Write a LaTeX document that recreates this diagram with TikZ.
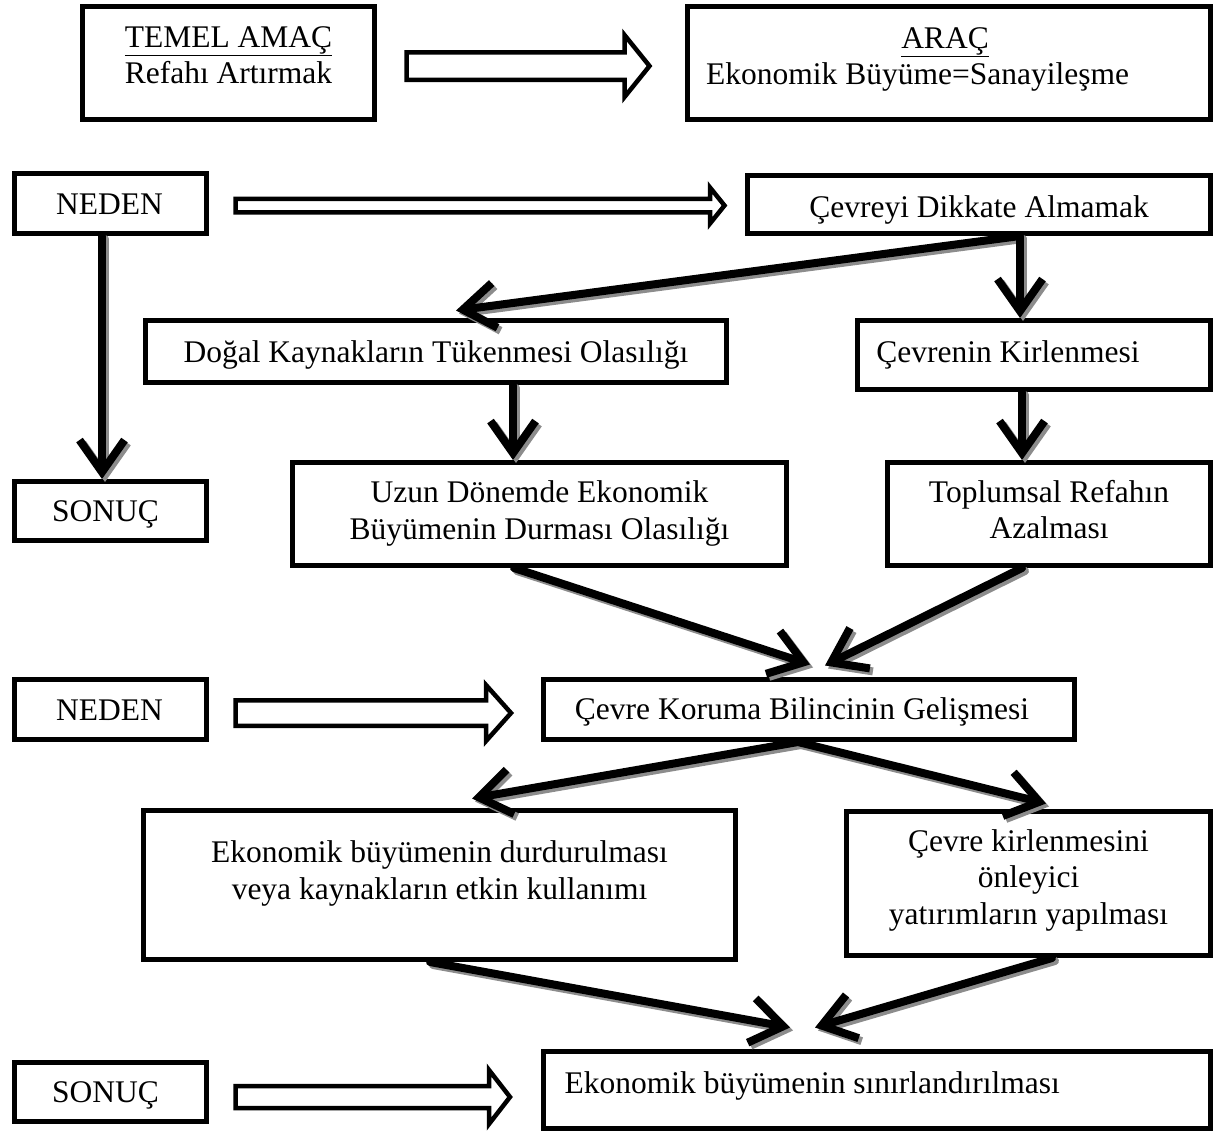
\documentclass[tikz,border=0pt]{standalone}
\usepackage{fontspec}
\setmainfont{Liberation Serif}
\usetikzlibrary{arrows.meta,calc}

\tikzset{
  box/.style={draw, fill=white, line width=5pt, inner sep=0pt},
  txt/.style={font=\fontsize{31.5}{36.5}\selectfont, align=center, inner sep=0pt},
  flowline/.style={line width=8pt, line cap=round, line join=round,
    -{Straight Barb[length=32pt,width=45pt]}},
  hollow/.style={draw, fill=white, line width=4.5pt, line join=miter},
}

% thick connector with a grey drop shadow
\newcommand\flow[2]{%
  \draw[flowline, black!45, transform canvas={shift={(3pt,-3pt)}}] #1 -- #2;
  \draw[flowline] #1 -- #2;}

% block arrow from #1 to #2 (same height): shaft half-width #3, head half-width #4, head length #5
\newcommand\blockarrow[5]{%
  \path[hollow] let \p1=(#1), \p2=(#2) in
    (\x1,\y1+#3) -- (\x2-#5,\y1+#3) -- (\x2-#5,\y1+#4) -- (\x2,\y1)
    -- (\x2-#5,\y1-#4) -- (\x2-#5,\y1-#3) -- (\x1,\y1-#3) -- cycle;}

\begin{document}
\begin{tikzpicture}[x=1pt, y=-1pt]
  \useasboundingbox (0,0) rectangle (1222,1133);

  % ---- boxes ----
  \node[box, minimum width=292pt, minimum height=113pt] (b1) at (228.5,63) {};
  \node[box, minimum width=523pt, minimum height=113pt] (b2) at (949,63) {};
  \node[box, minimum width=192pt, minimum height=60pt] (neden1) at (110.5,203.5) {};
  \node[box, minimum width=463pt, minimum height=58pt] (cevreyi) at (979,204.5) {};
  \node[box, minimum width=581pt, minimum height=62pt] (dogal) at (436,351.5) {};
  \node[box, minimum width=353pt, minimum height=69pt] (kirlenme) at (1034,355) {};
  \node[box, minimum width=192pt, minimum height=59pt] (sonuc1) at (110.5,511) {};
  \node[box, minimum width=494pt, minimum height=103pt] (uzun) at (539.5,514) {};
  \node[box, minimum width=323pt, minimum height=103pt] (toplumsal) at (1049,514) {};
  \node[box, minimum width=192pt, minimum height=60pt] (neden2) at (110.5,709.5) {};
  \node[box, minimum width=531pt, minimum height=60pt] (koruma) at (809,709.5) {};
  \node[box, minimum width=592pt, minimum height=149pt] (durdur) at (439.5,885) {};
  \node[box, minimum width=364pt, minimum height=144pt] (onleyici) at (1028.5,883.5) {};
  \node[box, minimum width=192pt, minimum height=59pt] (sonuc2) at (110.5,1092) {};
  \node[box, minimum width=667pt, minimum height=77pt] (sinir) at (877,1090) {};

  % ---- box texts ----
  \node[txt] (b1t) at ($(b1)+(0,-8)$) {\underline{TEMEL AMAÇ}\\Refahı Artırmak};
  \node[txt, anchor=base] (b2a) at (945,48) {\underline{ARAÇ}};
  \node[txt, anchor=base west] (b2b) at (706,84) {Ekonomik Büyüme=Sanayileşme};
  \node[txt] (neden1t) at ($(neden1)+(-1,0.5)$) {NEDEN};
  \node[txt] (cevreyit) at ($(cevreyi)+(0,5)$) {Çevreyi Dikkate Almamak};
  \node[txt] (dogalt) at ($(dogal)+(0,3)$) {Doğal Kaynakların Tükenmesi Olasılığı};
  \node[txt] (kirlenmet) at ($(kirlenme)+(-26,0)$) {Çevrenin Kirlenmesi};
  \node[txt] (sonuc1t) at ($(sonuc1)+(-5,3.5)$) {SONUÇ};
  \node[txt] (uzunt) at ($(uzun)+(0,-0.5)$) {Uzun Dönemde Ekonomik\\Büyümenin Durması Olasılığı};
  \node[txt] (toplumsalt) at ($(toplumsal)+(0,-4.5)$) {Toplumsal Refahın\\Azalması};
  \node[txt] (neden2t) at ($(neden2)+(-1,0.5)$) {NEDEN};
  \node[txt] (korumat) at ($(koruma)+(-7,2.5)$) {Çevre Koruma Bilincinin Gelişmesi};
  \node[txt] (durdurt) at ($(durdur)+(0,-11.5)$) {Ekonomik büyümenin durdurulması\\veya kaynakların etkin kullanımı};
  \node[txt] (onleyicit) at ($(onleyici)+(0,-3.5)$) {Çevre kirlenmesini\\önleyici\\yatırımların yapılması};
  \node[txt] (sonuc2t) at ($(sonuc2)+(-5,3)$) {SONUÇ};
  \node[txt, anchor=west] (sinirt) at ($(sinir.west)+(23.5,-4)$) {Ekonomik büyümenin sınırlandırılması};

  % ---- hollow block arrows ----
  \coordinate (h1a) at ($(b1.east)+(29.5,3)$);
  \coordinate (h1b) at ($(b2.west)+(-35.5,3)$);
  \blockarrow{h1a}{h1b}{13.75pt}{31pt}{25pt}
  \coordinate (h2a) at ($(neden1.east)+(26.5,2)$);
  \coordinate (h2b) at ($(cevreyi.west)+(-20.5,1)$);
  \blockarrow{h2a}{h2b}{6.75pt}{18pt}{14.5pt}
  \coordinate (h3a) at ($(neden2.east)+(26.5,3.5)$);
  \coordinate (h3b) at ($(koruma.west)+(-30,3.5)$);
  \blockarrow{h3a}{h3b}{12.75pt}{28pt}{25pt}
  \coordinate (h4a) at ($(sonuc2.east)+(26.5,5)$);
  \coordinate (h4b) at ($(sinir.west)+(-31,7)$);
  \blockarrow{h4a}{h4b}{11pt}{27pt}{21pt}

  % ---- thick connectors ----
  \coordinate (cs) at ($(cevreyi.south)+(41,0)$);
  \coordinate (ks) at ($(koruma.south)+(-11,0)$);
  \flow{($(neden1.south)+(-8.5,0)$)}{($(sonuc1.north)+(-8.5,0)$)}
  \flow{(cs)}{($(dogal.north)+(20,-7.5)$)}
  \flow{(cs)}{($(kirlenme.north)+(-14,0)$)}
  \flow{($(dogal.south)+(77,0)$)}{($(uzun.north)+(-26.5,0)$)}
  \flow{($(kirlenme.south)+(-12,0)$)}{($(toplumsal.north)+(-27,0)$)}
  \flow{($(uzun.south)+(-25.5,0)$)}{($(koruma.north)+(1,-12.5)$)}
  \flow{($(toplumsal.south)+(-27,0)$)}{($(koruma.north)+(16,-11.5)$)}
  \flow{(ks)}{($(durdur.north)+(32.5,-9.5)$)}
  \flow{(ks)}{($(onleyici.north)+(17.5,-5.5)$)}
  \flow{($(durdur.south)+(-9.5,0)$)}{($(sinir.north)+(-87,-21.5)$)}
  \flow{($(onleyici.south)+(23.5,0)$)}{($(sinir.north)+(-62,-21.5)$)}
\end{tikzpicture}
\end{document}
